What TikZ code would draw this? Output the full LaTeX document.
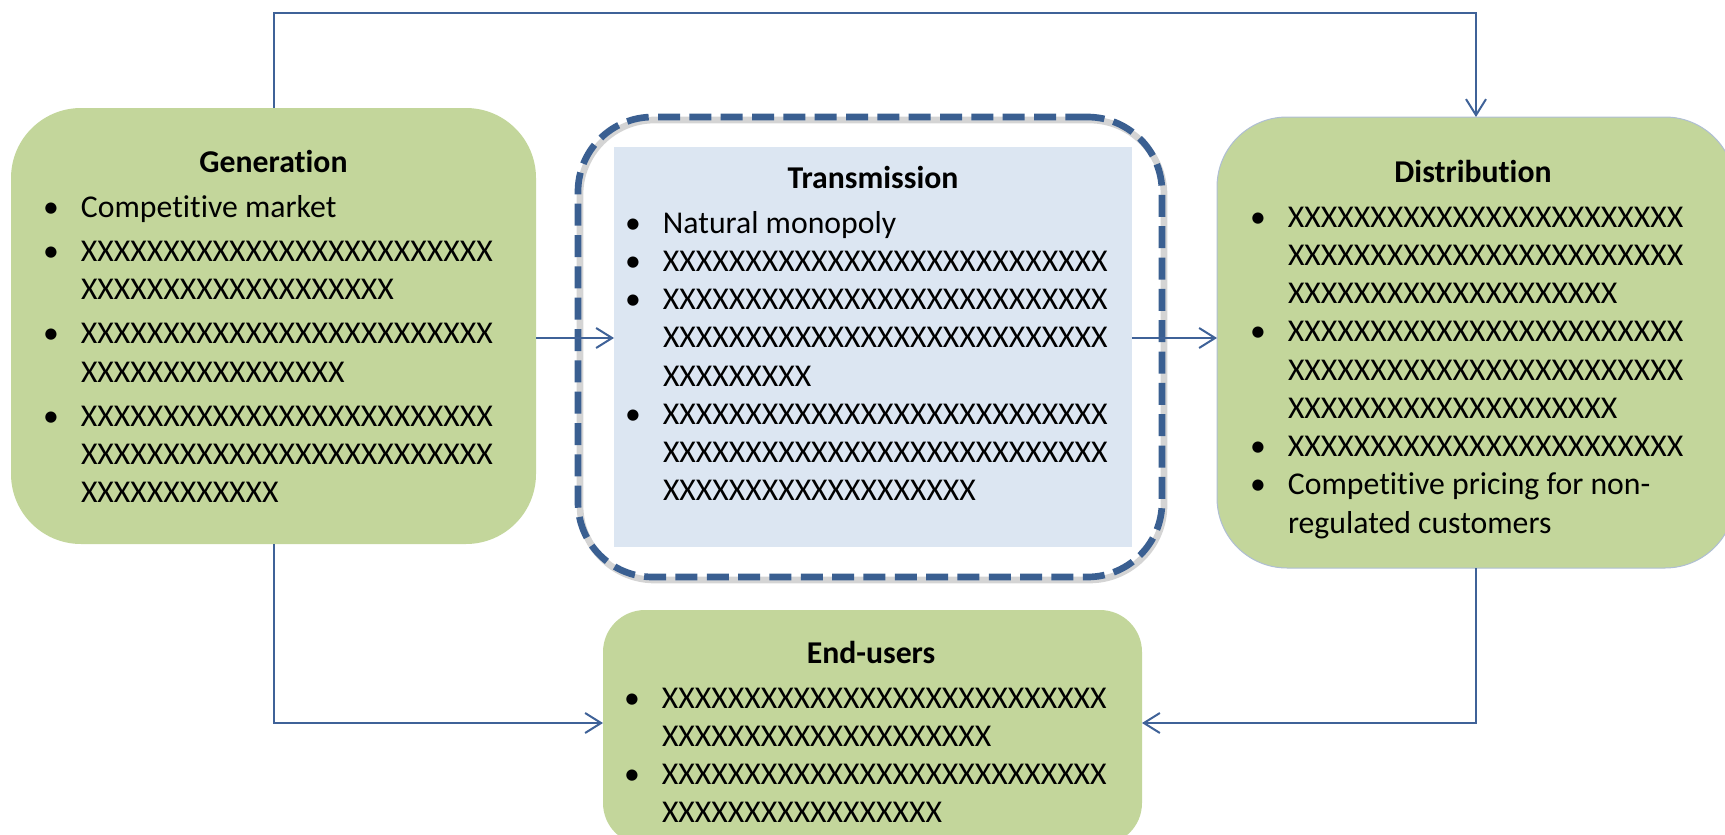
\documentclass[tikz,border=0pt]{standalone}
\usepackage{fontspec}
\setmainfont{Carlito}[Ligatures=NoCommon]
\usetikzlibrary{arrows.meta}
\definecolor{boxgreen}{RGB}{195,214,155}
\definecolor{paleblue}{RGB}{220,230,242}
\definecolor{linkblue}{RGB}{63,98,152}
\definecolor{dashblue}{RGB}{58,95,145}
\definecolor{shadowgray}{RGB}{212,212,212}
\definecolor{rimblue}{RGB}{175,190,212}
\newlength\bulind
\setlength\bulind{28.5pt}
\newcommand\itm[1]{\par\hangindent=\bulind\hangafter=1\noindent\makebox[\bulind][l]{\textbullet}#1}
\newcommand\itmg[1]{\par\vspace{4.5pt}\itm{#1}}
\newcommand\bodytext[1]{\parbox[t]{370pt}{\raggedright #1}}
\begin{document}
\begin{tikzpicture}[x=0.75pt,y=-0.75pt,
  every node/.style={inner sep=0pt,outer sep=0pt},
  gbox/.style={rectangle,fill=boxgreen,rounded corners=52.5pt},
  ttl/.style={anchor=base,font=\fontsize{23.8pt}{28.7pt}\selectfont\bfseries},
  bdy/.style={anchor=base west,font=\fontsize{23.8pt}{28.7pt}\selectfont},
  link/.style={draw=linkblue,line width=1.5pt,-{Straight Barb[length=12pt,width=15pt]}}]
\useasboundingbox (0,0) rectangle (1725,835);
% boxes
\node[gbox,minimum width=393.75pt,minimum height=327pt] (gen) at (273.5,326) {};
\node[rectangle,draw=shadowgray,line width=5pt,rounded corners=56pt,
      minimum width=438pt,minimum height=345pt] (tshadow) at (872,350) {};
\node[rectangle,draw=dashblue,line width=5pt,rounded corners=56pt,
      dash pattern=on 16.5pt off 7pt,
      minimum width=438pt,minimum height=345pt] (trans) at (870,347) {};
\node[rectangle,fill=paleblue,minimum width=388.5pt,minimum height=300pt] (tinner) at (873,347) {};
\node[gbox,draw=rimblue,line width=0.75pt,minimum width=388.5pt,minimum height=338.25pt] (dist) at (1476,342.5) {};
\node[gbox,rounded corners=31.5pt,minimum width=404.25pt,minimum height=176.25pt] (endu) at (872.5,727.5) {};
% texts
\node[ttl] (gent) at (273.5,172) {Generation};
\node[bdy] (genb) at (43,217) {\bodytext{%
\itm{Competitive market}
\itmg{XXXXXXXXXXXXXXXXXXXXXXXXX\newline XXXXXXXXXXXXXXXXXXX}
\itmg{XXXXXXXXXXXXXXXXXXXXXXXXX\newline XXXXXXXXXXXXXXXX}
\itmg{XXXXXXXXXXXXXXXXXXXXXXXXX\newline XXXXXXXXXXXXXXXXXXXXXXXXX\newline XXXXXXXXXXXX}}};
\node[ttl] (transt) at (873,188) {Transmission};
\node[bdy] (transb) at (625,233) {\bodytext{%
\itm{Natural monopoly}
\itm{XXXXXXXXXXXXXXXXXXXXXXXXXXX}
\itm{XXXXXXXXXXXXXXXXXXXXXXXXXXX\newline XXXXXXXXXXXXXXXXXXXXXXXXXXX\newline XXXXXXXXX}
\itm{XXXXXXXXXXXXXXXXXXXXXXXXXXX\newline XXXXXXXXXXXXXXXXXXXXXXXXXXX\newline XXXXXXXXXXXXXXXXXXX}}};
\node[ttl] (distt) at (1473,182) {Distribution};
\node[bdy] (distb) at (1250,227) {\bodytext{%
\itm{XXXXXXXXXXXXXXXXXXXXXXXX\newline XXXXXXXXXXXXXXXXXXXXXXXX\newline XXXXXXXXXXXXXXXXXXXX}
\itm{XXXXXXXXXXXXXXXXXXXXXXXX\newline XXXXXXXXXXXXXXXXXXXXXXXX\newline XXXXXXXXXXXXXXXXXXXX}
\itm{XXXXXXXXXXXXXXXXXXXXXXXX}
\itm{Competitive pricing for non-\newline regulated customers}}};
\node[ttl] (endt) at (871,663) {End-users};
\node[bdy] (endb) at (624,708) {\bodytext{%
\itm{XXXXXXXXXXXXXXXXXXXXXXXXXXX\newline XXXXXXXXXXXXXXXXXXXX}
\itm{XXXXXXXXXXXXXXXXXXXXXXXXXXX\newline XXXXXXXXXXXXXXXXX}}};
% connectors
\coordinate (toprow) at (0,13);
\coordinate (midrow) at (0,338);
\coordinate (lowrow) at (0,723);
\draw[link] (gen.north) -- (gen.north |- toprow) -| (dist.north);
\draw[link] (gen.east |- midrow) -- (tinner.west |- midrow);
\draw[link] (tinner.east |- midrow) -- (dist.west |- midrow);
\draw[link] (gen.south) -- (gen.south |- lowrow) -- (endu.west |- lowrow);
\draw[link] (dist.south) -- (dist.south |- lowrow) -- (endu.east |- lowrow);
\end{tikzpicture}
\end{document}
